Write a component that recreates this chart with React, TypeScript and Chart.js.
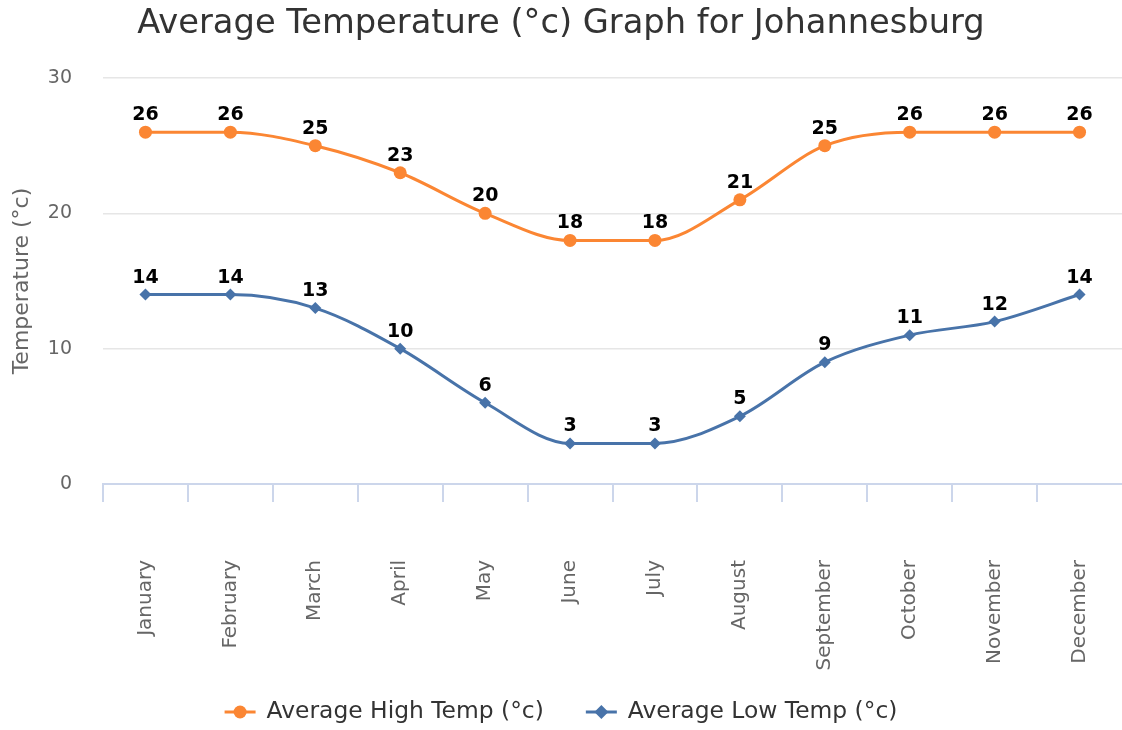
import React, { useEffect, useRef } from 'react';
import { Chart, registerables } from 'chart.js';

Chart.register(...registerables);

const months = ['January', 'February', 'March', 'April', 'May', 'June', 'July', 'August', 'September', 'October', 'November', 'December'];
const highTemps = [26, 26, 25, 23, 20, 18, 18, 21, 25, 26, 26, 26];
const lowTemps = [14, 14, 13, 10, 6, 3, 3, 5, 9, 11, 12, 14];
const yMin = 0;
const yMax = 30;
const yStep = 10;
const titleText = 'Average Temperature (°c) Graph for Johannesburg';
const yTitleText = 'Temperature (°c)';
const highLabel = 'Average High Temp (°c)';
const lowLabel = 'Average Low Temp (°c)';

const ORANGE = '#fb8633';
const BLUE = '#4873a9';
const FONT = '"DejaVu Sans", sans-serif';

function drawMarker(ctx: CanvasRenderingContext2D, style: string, x: number, y: number, r: number, color: string) {
  ctx.fillStyle = color;
  ctx.beginPath();
  if (style === 'rectRot') {
    ctx.moveTo(x, y - r);
    ctx.lineTo(x + r, y);
    ctx.lineTo(x, y + r);
    ctx.lineTo(x - r, y);
    ctx.closePath();
  } else {
    ctx.arc(x, y, r, 0, Math.PI * 2);
  }
  ctx.fill();
}

const dataLabels = {
  id: 'dataLabels',
  afterDatasetsDraw(chart: any) {
    const ctx = chart.ctx;
    ctx.save();
    ctx.font = `bold 19px ${FONT}`;
    ctx.fillStyle = '#000000';
    ctx.textAlign = 'center';
    ctx.textBaseline = 'alphabetic';
    chart.data.datasets.forEach((ds: any, i: number) => {
      const meta = chart.getDatasetMeta(i);
      meta.data.forEach((pt: any, j: number) => {
        ctx.fillText(String(ds.data[j]), pt.x, pt.y - 12);
      });
    });
    ctx.restore();
  },
};

const customLegend = {
  id: 'customLegend',
  afterDraw(chart: any) {
    const ctx = chart.ctx;
    ctx.save();
    ctx.font = `23.4px ${FONT}`;
    const symW = 31;
    const symGap = 11;
    const itemGap = 42;
    const items = chart.data.datasets.map((ds: any) => ({
      label: ds.label as string,
      color: ds.borderColor as string,
      style: ds.pointStyle as string,
      w: ctx.measureText(ds.label).width,
    }));
    let total = 0;
    items.forEach((it: any, i: number) => {
      total += symW + symGap + it.w + (i < items.length - 1 ? itemGap : 0);
    });
    let x = (chart.width - total) / 2;
    const y = 712;
    items.forEach((it: any) => {
      ctx.strokeStyle = it.color;
      ctx.lineWidth = 3;
      ctx.beginPath();
      ctx.moveTo(x, y);
      ctx.lineTo(x + symW, y);
      ctx.stroke();
      drawMarker(ctx, it.style, x + symW / 2, y, it.style === 'rectRot' ? 7 : 6.5, it.color);
      ctx.fillStyle = '#333333';
      ctx.textAlign = 'left';
      ctx.textBaseline = 'middle';
      ctx.fillText(it.label, x + symW + symGap, y);
      x += symW + symGap + it.w + itemGap;
    });
    ctx.restore();
  },
};

export default function App() {
  const canvasRef = useRef<HTMLCanvasElement | null>(null);

  useEffect(() => {
    if (!canvasRef.current) return;
    const chart = new Chart(canvasRef.current, {
      type: 'line',
      data: {
        labels: months,
        datasets: [
          {
            label: highLabel,
            data: highTemps,
            borderColor: ORANGE,
            backgroundColor: ORANGE,
            borderWidth: 3,
            pointStyle: 'circle',
            pointRadius: 6.5,
            pointBorderWidth: 0,
            cubicInterpolationMode: 'monotone',
            fill: false,
          },
          {
            label: lowLabel,
            data: lowTemps,
            borderColor: BLUE,
            backgroundColor: BLUE,
            borderWidth: 3,
            pointStyle: 'rectRot',
            pointRadius: 6,
            pointBorderWidth: 0,
            cubicInterpolationMode: 'monotone',
            fill: false,
          },
        ],
      },
      options: {
        responsive: false,
        animation: false,
        events: [],
        layout: { autoPadding: false, padding: { left: 0, right: 0, top: 0, bottom: 40 } },
        plugins: {
          legend: { display: false },
          tooltip: { enabled: false },
          title: {
            display: true,
            text: titleText,
            color: '#333333',
            font: { family: FONT, size: 33.7, weight: 'normal' },
            padding: { top: 4, bottom: 33.6 },
          },
        },
        scales: {
          x: {
            offset: true,
            grid: {
              display: true,
              offset: true,
              drawOnChartArea: false,
              drawTicks: true,
              tickLength: 18,
              lineWidth: 2,
              color: (c: any) => (c.type === 'tick' ? '#ccd6eb' : 'rgba(0,0,0,0)'),
            },
            border: { display: true, color: '#ccd6eb', width: 2 },
            ticks: {
              minRotation: 90,
              maxRotation: 90,
              autoSkip: false,
              padding: 58,
              color: '#666666',
              font: { family: FONT, size: 20 },
            },
            afterFit: (s: any) => {
              s.height = 206;
              s.paddingLeft = 0;
              s.paddingRight = 0;
            },
          },
          y: {
            min: yMin,
            max: yMax,
            ticks: {
              stepSize: yStep,
              padding: 31,
              color: '#666666',
              font: { family: FONT, size: 19 },
            },
            grid: { color: '#e6e6e6', lineWidth: 1.5, drawTicks: false },
            border: { display: false },
            title: {
              display: true,
              text: yTitleText,
              color: '#666666',
              font: { family: FONT, size: 22 },
              padding: { top: 9, bottom: 0 },
            },
            afterFit: (s: any) => {
              s.width = 103;
            },
          },
        },
      },
      plugins: [dataLabels, customLegend],
    } as any);
    return () => chart.destroy();
  }, []);

  return (
    <div style={{ position: 'fixed', left: 0, top: 0, width: 1122, height: 730, background: '#ffffff' }}>
      <canvas ref={canvasRef} width={1122} height={730} />
    </div>
  );
}
